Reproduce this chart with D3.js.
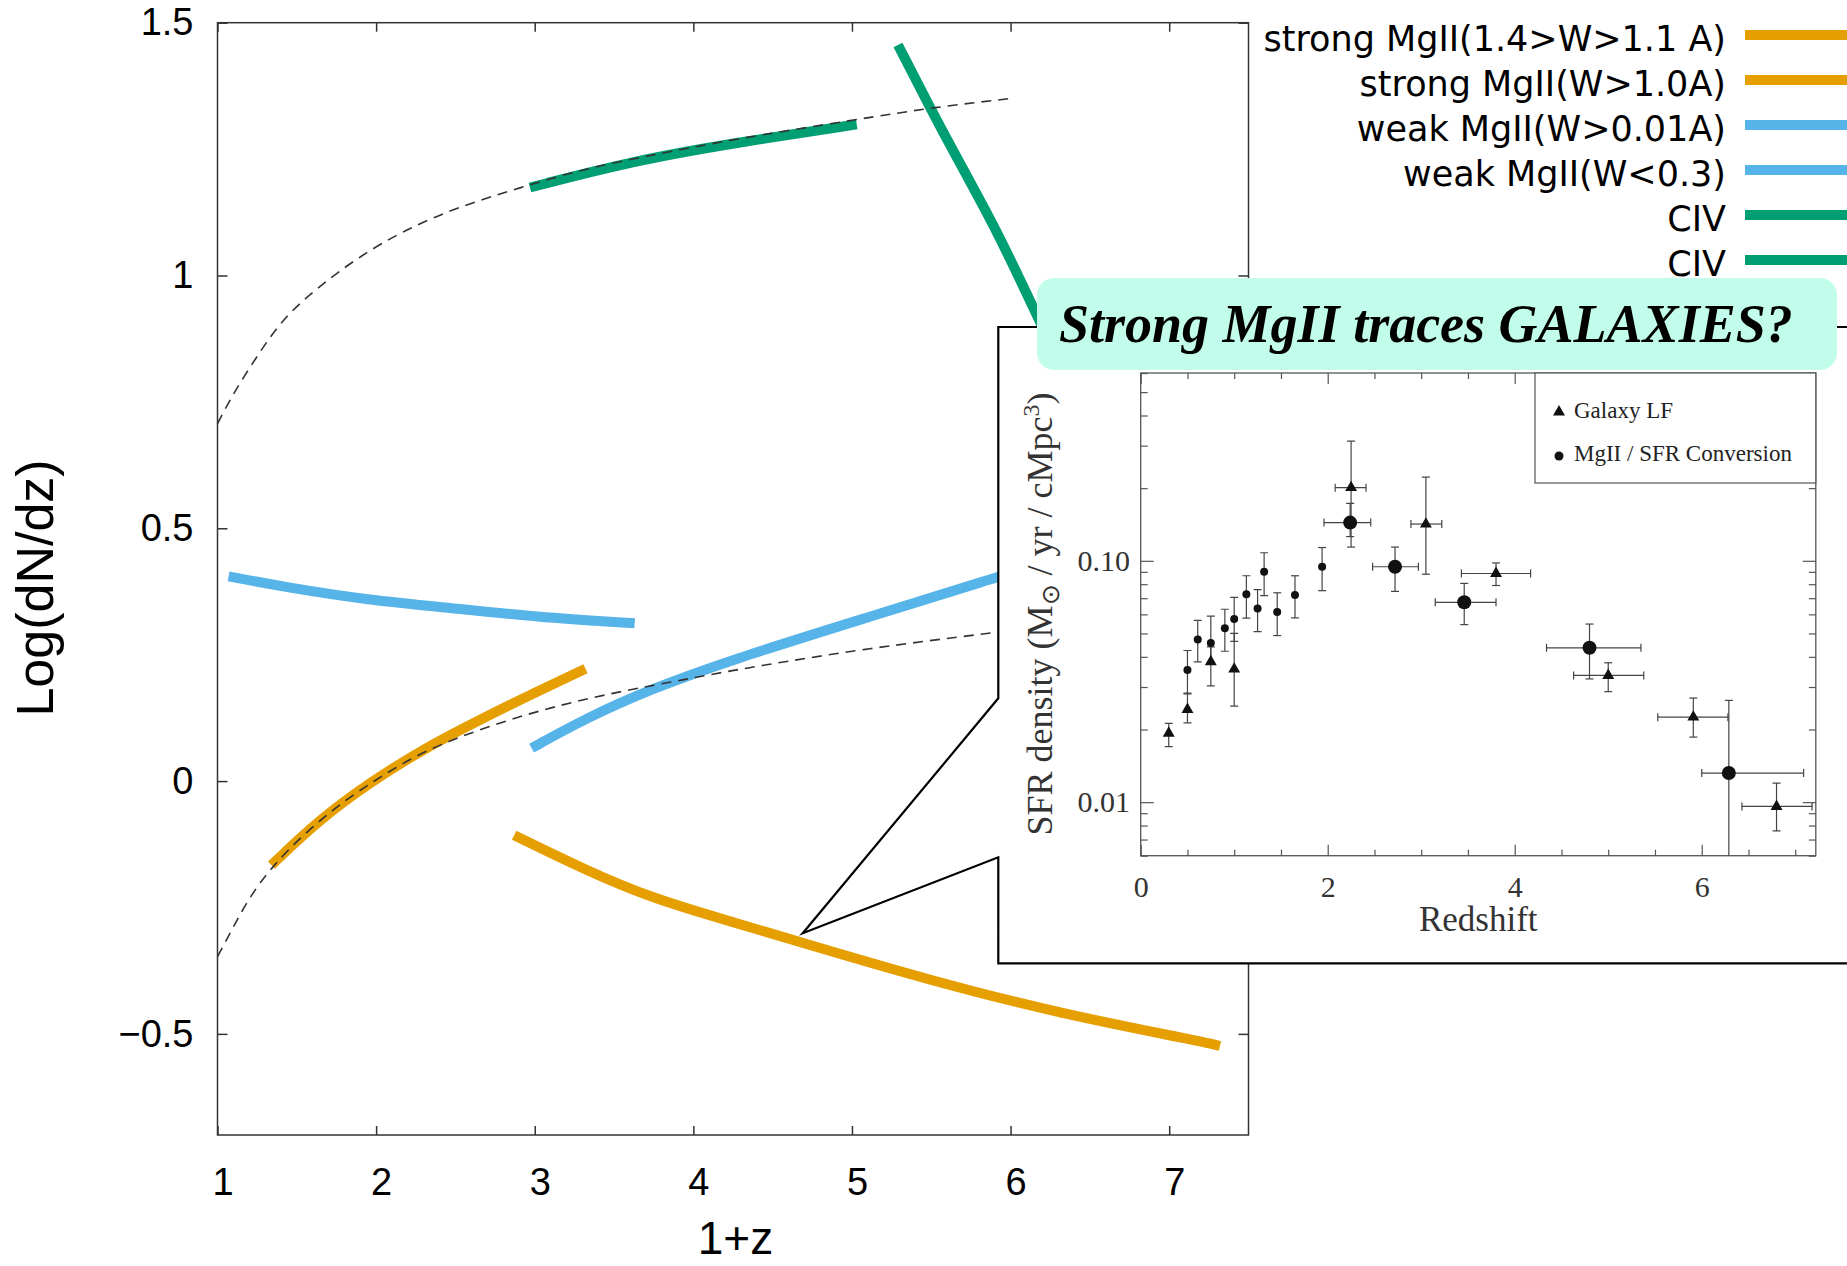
<!DOCTYPE html>
<html><head><meta charset="utf-8">
<script src="https://cdn.jsdelivr.net/npm/d3@7/dist/d3.min.js"></script>
<style>html,body{margin:0;padding:0;background:#fff;} svg{display:block;}</style>
</head><body>
<svg id="c" width="1847" height="1266"></svg>
<script>
// ---------------- main chart data (1+z, log dN/dz) ----------------
const xTicksMain = [1, 2, 3, 4, 5, 6, 7];
const yTicksMain = [-0.5, 0, 0.5, 1, 1.5];

const legendLabels = ["strong MgII(1.4>W>1.1 A)", "strong MgII(W>1.0A)", "weak MgII(W>0.01A)", "weak MgII(W<0.3)", "CIV", "CIV"];
const legendColors = ["#E69F00", "#E69F00", "#56B4E9", "#56B4E9", "#009E73", "#009E73"];

const strongA_x = [1.34, 1.64, 1.95, 2.31, 2.69, 3.00, 3.32];
const strongA_y = [-0.166, -0.077, -0.005, 0.066, 0.127, 0.175, 0.222];
const strongB_x = [2.87, 3.32, 3.74, 4.24, 4.70, 5.50, 6.34, 7.19, 7.32];
const strongB_y = [-0.107, -0.176, -0.232, -0.278, -0.321, -0.395, -0.462, -0.514, -0.524];
const weakA_x = [2.98, 3.32, 3.74, 4.24, 5.08, 5.93, 6.00];
const weakA_y = [0.065, 0.124, 0.183, 0.240, 0.322, 0.405, 0.410];
const weakB_x = [1.07, 1.42, 1.95, 2.48, 3.00, 3.63];
const weakB_y = [0.405, 0.384, 0.358, 0.342, 0.325, 0.312];
const civA_x = [2.97, 3.64, 4.26, 5.03];
const civA_y = [1.174, 1.228, 1.262, 1.299];
const civB_x = [5.29, 5.50, 5.71, 5.92, 6.16, 6.50];
const civB_y = [1.456, 1.327, 1.205, 1.085, 0.925, 0.700];
const dashU_x = [1.00, 1.10, 1.26, 1.42, 1.64, 1.89, 2.18, 2.52, 2.90, 3.32, 3.74, 4.26, 5.04, 5.50, 6.00];
const dashU_y = [0.707, 0.767, 0.846, 0.918, 0.978, 1.037, 1.090, 1.136, 1.173, 1.212, 1.238, 1.270, 1.309, 1.332, 1.350];
const dashL_x = [1.00, 1.09, 1.19, 1.34, 1.55, 1.80, 2.06, 2.31, 2.69, 3.11, 3.53, 3.95, 4.26, 5.08, 5.93, 6.00];
const dashL_y = [-0.347, -0.295, -0.235, -0.170, -0.103, -0.038, 0.015, 0.061, 0.107, 0.147, 0.177, 0.201, 0.220, 0.262, 0.295, 0.298];

// ---------------- inset data (redshift, SFR density) ----------------
const insetXTicks = [0, 2, 4, 6];
const insetYTicks = [0.01, 0.1];
const insetLegend = ["Galaxy LF", "MgII / SFR Conversion"];

const lfZ   = [0.30, 0.50, 0.75, 1.00, 2.25, 3.05, 3.80, 5.00, 5.91, 6.80];
const lfSFR = [0.0193, 0.0242, 0.0382, 0.0356, 0.201, 0.142, 0.0886, 0.0335, 0.0225, 0.0096];
const lfLo  = [0.0170, 0.0213, 0.0303, 0.0250, 0.114, 0.088, 0.079, 0.0287, 0.0186, 0.0076];
const lfHi  = [0.0212, 0.0283, 0.044, 0.050, 0.313, 0.222, 0.098, 0.0378, 0.0270, 0.0120];
const lfZlo = [null, null, null, null, 2.08, 2.89, 3.43, 4.63, 5.53, 6.43];
const lfZhi = [null, null, null, null, 2.41, 3.22, 4.17, 5.38, 6.28, 7.18];

const mgZ   = [0.50, 0.61, 0.75, 0.90, 1.00, 1.13, 1.25, 1.32, 1.46, 1.65, 1.94, 2.24, 2.72, 3.46, 4.80, 6.29];
const mgSFR = [0.0353, 0.0472, 0.0457, 0.0526, 0.0574, 0.0726, 0.0634, 0.0901, 0.0614, 0.0722, 0.0945, 0.144, 0.0945, 0.0673, 0.0436, 0.0132];
const mgLo  = [0.0281, 0.0381, 0.038, 0.0422, 0.0464, 0.0579, 0.0509, 0.0717, 0.049, 0.058, 0.0752, 0.126, 0.0747, 0.0544, 0.0324, 0.005];
const mgHi  = [0.0425, 0.0567, 0.059, 0.063, 0.0706, 0.0867, 0.0759, 0.108, 0.0737, 0.0867, 0.1135, 0.173, 0.114, 0.0806, 0.0547, 0.0264];
const mgZlo = [null, null, null, null, null, null, null, null, null, null, null, 1.96, 2.48, 3.15, 4.34, 6.00];
const mgZhi = [null, null, null, null, null, null, null, null, null, null, null, 2.46, 2.97, 3.80, 5.35, 7.09];

// ---------------- drawing ----------------
const svg = d3.select("#c");
const SANS = "'Liberation Sans', Arial, sans-serif";
const SERIF = "'Liberation Serif', 'Times New Roman', serif";

const xM = d3.scaleLinear().domain([1, 7.5]).range([217.5, 1248.5]);
const yM = d3.scaleLinear().domain([-0.7, 1.5]).range([1135, 22.7]);
const [mx0, mx1] = xM.range(); const [my0, my1] = yM.range();

const gM = svg.append("g");
function styleAxis(g, size, family) {
  g.select(".domain").remove();
  g.selectAll(".tick line").attr("stroke", "#333").attr("stroke-width", 1.5);
  g.selectAll(".tick text").attr("fill", "#000").style("font-size", size + "px").style("font-family", family);
}
gM.append("g").attr("transform", `translate(${mx0},0)`)
  .call(d3.axisLeft(yM).tickValues(yTicksMain).tickSize(-10).tickPadding(24).tickFormat(d3.format("~g")))
  .call(g => styleAxis(g, 38, SANS));
gM.append("g").attr("transform", `translate(${mx1},0)`)
  .call(d3.axisRight(yM).tickValues(yTicksMain).tickSize(-10).tickFormat(""))
  .call(g => styleAxis(g, 38, SANS));
gM.append("g").attr("transform", `translate(0,${my0})`)
  .call(d3.axisBottom(xM).tickValues(xTicksMain).tickSize(-9).tickPadding(33).tickFormat(d3.format("d")))
  .call(g => styleAxis(g, 38, SANS))
  .call(g => g.selectAll(".tick text").attr("dx", 5));
gM.append("g").attr("transform", `translate(0,${my1})`)
  .call(d3.axisTop(xM).tickValues(xTicksMain).tickSize(-9).tickFormat(""))
  .call(g => styleAxis(g, 38, SANS));
gM.append("rect").attr("x", mx0).attr("y", my1).attr("width", mx1 - mx0).attr("height", my0 - my1)
  .attr("fill", "none").attr("stroke", "#333").attr("stroke-width", 1.5);

gM.append("text").attr("x", (mx0 + mx1) / 2 + 2.5).attr("y", 1254).attr("text-anchor", "middle")
  .style("font-family", SANS).style("font-size", "46px").attr("fill", "#000").text("1+z");
gM.append("text").attr("transform", "translate(53,588) rotate(-90)").attr("text-anchor", "middle")
  .style("font-family", SANS).style("font-size", "52px").attr("fill", "#000").text("Log(dN/dz)");

const line = d3.line().x(d => xM(d[0])).y(d => yM(d[1])).curve(d3.curveBasis);
const zip = (xs, ys) => xs.map((v, i) => [v, ys[i]]);
const curves = [
  [strongA_x, strongA_y, legendColors[0]],
  [strongB_x, strongB_y, legendColors[1]],
  [weakA_x, weakA_y, legendColors[2]],
  [weakB_x, weakB_y, legendColors[3]],
  [civA_x, civA_y, legendColors[4]],
  [civB_x, civB_y, legendColors[5]]
];
curves.forEach(([xs, ys, c]) => {
  gM.append("path").attr("d", line(zip(xs, ys))).attr("fill", "none")
    .attr("stroke", c).attr("stroke-width", 10).attr("stroke-linecap", "butt");
});
[[dashU_x, dashU_y], [dashL_x, dashL_y]].forEach(([xs, ys]) => {
  gM.append("path").attr("d", line(zip(xs, ys))).attr("fill", "none")
    .attr("stroke", "#333").attr("stroke-width", 1.6).attr("stroke-dasharray", "10,7");
});

// main legend
const legRowY = d3.scalePoint().domain(d3.range(legendLabels.length)).range([35, 260]);
const gL = svg.append("g");
legendLabels.forEach((lab, i) => {
  const y = legRowY(i);
  gL.append("line").attr("x1", 1745).attr("x2", 1850).attr("y1", y).attr("y2", y)
    .attr("stroke", legendColors[i]).attr("stroke-width", 10);
  gL.append("text").attr("x", 1726).attr("y", y + 16).attr("text-anchor", "end")
    .style("font-family", "'DejaVu Sans', sans-serif").style("font-size", "35px").attr("fill", "#000").text(lab);
});

// ---------------- inset panel ----------------
const gI = svg.append("g");
gI.append("path")
  .attr("d", "M1852,327 H998.3 V698.3 L802.7,933.3 L998.3,857.3 V963.3 H1852 Z")
  .attr("fill", "#fff").attr("stroke", "#000").attr("stroke-width", 2.2).attr("stroke-linejoin", "miter");

const xI = d3.scaleLinear().domain([0, 7.22]).range([1140.7, 1815.8]);
const yI = d3.scaleLog().domain([0.006, 0.6]).range([855.7, 373]);
const [ix0, ix1] = xI.range(); const [iy0, iy1] = yI.range();

function styleI(g) {
  g.select(".domain").remove();
  g.selectAll(".tick line").attr("stroke", "#555").attr("stroke-width", 1.2);
  g.selectAll(".tick text").attr("fill", "#333").style("font-size", "30px").style("font-family", SERIF);
}
const xMinor = d3.range(0.5, 7.01, 0.5).filter(v => !insetXTicks.includes(v));
const yMinor = yI.ticks().filter(v => !insetYTicks.some(t => Math.abs(t - v) < 1e-9));
gI.append("g").attr("transform", `translate(0,${iy0})`)
  .call(d3.axisBottom(xI).tickValues(insetXTicks).tickSize(-11).tickPadding(20).tickFormat(d3.format("d"))).call(styleI);
gI.append("g").attr("transform", `translate(0,${iy0})`)
  .call(d3.axisBottom(xI).tickValues(xMinor).tickSize(-6).tickFormat("")).call(styleI);
gI.append("g").attr("transform", `translate(0,${iy1})`)
  .call(d3.axisTop(xI).tickValues(insetXTicks).tickSize(-11).tickFormat("")).call(styleI);
gI.append("g").attr("transform", `translate(0,${iy1})`)
  .call(d3.axisTop(xI).tickValues(xMinor).tickSize(-6).tickFormat("")).call(styleI);
gI.append("g").attr("transform", `translate(${ix0},0)`)
  .call(d3.axisLeft(yI).tickValues(insetYTicks).tickSize(-13).tickPadding(10.7).tickFormat(d => d.toFixed(2))).call(styleI);
gI.append("g").attr("transform", `translate(${ix0},0)`)
  .call(d3.axisLeft(yI).tickValues(yMinor).tickSize(-7).tickFormat("")).call(styleI);
gI.append("g").attr("transform", `translate(${ix1},0)`)
  .call(d3.axisRight(yI).tickValues(insetYTicks).tickSize(-13).tickFormat("")).call(styleI);
gI.append("g").attr("transform", `translate(${ix1},0)`)
  .call(d3.axisRight(yI).tickValues(yMinor).tickSize(-7).tickFormat("")).call(styleI);
gI.append("rect").attr("x", ix0).attr("y", iy1).attr("width", ix1 - ix0).attr("height", iy0 - iy1)
  .attr("fill", "none").attr("stroke", "#555").attr("stroke-width", 1.3);

gI.append("text").attr("x", (ix0 + ix1) / 2).attr("y", 931).attr("text-anchor", "middle")
  .style("font-family", SERIF).style("font-size", "35px").attr("fill", "#333").text("Redshift");
const yl = gI.append("text").attr("transform", "translate(1052,614) rotate(-90)").attr("text-anchor", "middle")
  .style("font-family", SERIF).style("font-size", "36px").attr("fill", "#333");
yl.append("tspan").text("SFR density (M");
yl.append("tspan").attr("dy", 7).style("font-size", "25px").text("\u2299");
yl.append("tspan").attr("dy", -7).text(" / yr / cMpc");
yl.append("tspan").attr("dy", -13).style("font-size", "24px").text("3");
yl.append("tspan").attr("dy", 13).text(")");

// legend box of inset
gI.append("rect").attr("x", 1535).attr("y", iy1).attr("width", ix1 - 1535).attr("height", 110)
  .attr("fill", "#fff").attr("stroke", "#555").attr("stroke-width", 1.2);
const tri = d3.symbol(d3.symbolTriangle, 62);
gI.append("path").attr("d", tri()).attr("transform", "translate(1559,412)").attr("fill", "#111");
gI.append("circle").attr("cx", 1559).attr("cy", 456).attr("r", 4.5).attr("fill", "#111");
gI.append("text").attr("x", 1574).attr("y", 418).style("font-family", SERIF).style("font-size", "23px").attr("fill", "#222").text(insetLegend[0]);
gI.append("text").attr("x", 1574).attr("y", 461).style("font-family", SERIF).style("font-size", "23px").attr("fill", "#222").text(insetLegend[1]);

// data points
gI.append("clipPath").attr("id", "ic").append("rect").attr("x", ix0).attr("y", iy1).attr("width", ix1 - ix0).attr("height", iy0 - iy1);
const gP = gI.append("g").attr("clip-path", "url(#ic)");
function errBars(z, lo, hi, zlo, zhi, v) {
  z.forEach((zz, i) => {
    const cx = xI(zz), cy = yI(v[i]);
    const ylo = yI(Math.max(lo[i], 0.006)), yhi = yI(hi[i]);
    gP.append("line").attr("x1", cx).attr("x2", cx).attr("y1", ylo).attr("y2", yhi).attr("stroke", "#444").attr("stroke-width", 1.2);
    [yhi].concat(lo[i] > 0.006 ? [ylo] : []).forEach(yy =>
      gP.append("line").attr("x1", cx - 4).attr("x2", cx + 4).attr("y1", yy).attr("y2", yy).attr("stroke", "#444").attr("stroke-width", 1.2));
    if (zlo[i] != null) {
      const a = xI(zlo[i]), b = xI(zhi[i]);
      gP.append("line").attr("x1", a).attr("x2", b).attr("y1", cy).attr("y2", cy).attr("stroke", "#444").attr("stroke-width", 1.2);
      [a, b].forEach(xx => gP.append("line").attr("x1", xx).attr("x2", xx).attr("y1", cy - 4).attr("y2", cy + 4).attr("stroke", "#444").attr("stroke-width", 1.2));
    }
  });
}
errBars(lfZ, lfLo, lfHi, lfZlo, lfZhi, lfSFR);
errBars(mgZ, mgLo, mgHi, mgZlo, mgZhi, mgSFR);
lfZ.forEach((z, i) => gP.append("path").attr("d", tri()).attr("transform", `translate(${xI(z)},${yI(lfSFR[i])})`).attr("fill", "#111"));
mgZ.forEach((z, i) => gP.append("circle").attr("cx", xI(z)).attr("cy", yI(mgSFR[i])).attr("r", mgZlo[i] != null ? 7 : 4).attr("fill", "#111"));

// callout
svg.append("rect").attr("x", 1037).attr("y", 278).attr("width", 800).attr("height", 92).attr("rx", 17)
  .attr("fill", "#c2fdeb");
svg.append("text").attr("x", 1059).attr("y", 342)
  .style("font-family", SERIF).style("font-size", "54px").style("font-weight", "bold").style("font-style", "italic")
  .attr("fill", "#000").text("Strong MgII traces GALAXIES?");
</script></body></html>
